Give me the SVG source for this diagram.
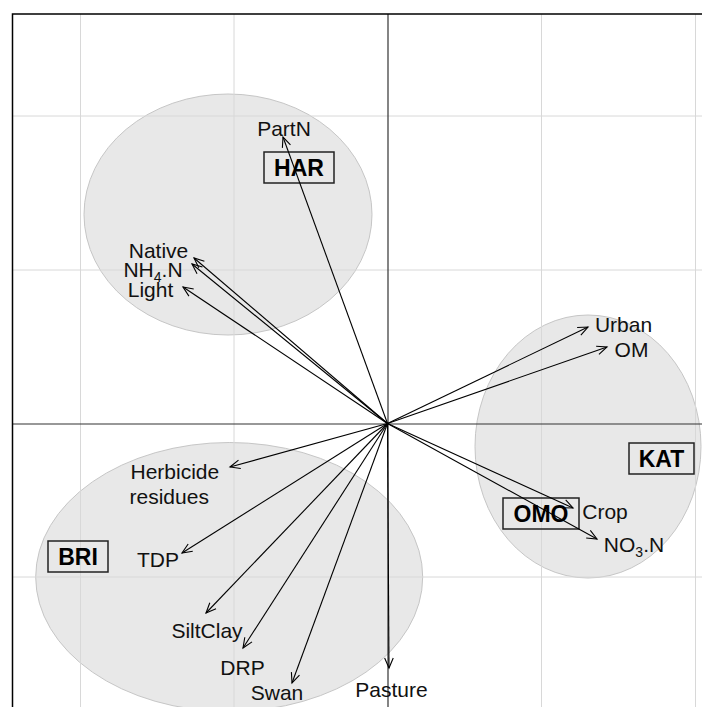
<svg xmlns="http://www.w3.org/2000/svg" width="702" height="707" viewBox="0 0 702 707">
<style>
.ell{fill:#e8e8e8;stroke:#c6c6c6;stroke-width:1}
.grid{stroke:#d8d8d8;stroke-width:1;fill:none}
.axis{stroke:#333;stroke-width:1.2;fill:none}
.frame{stroke:#000;stroke-width:1.5;fill:none}
.lab{font-family:"Liberation Sans",Arial,sans-serif;font-size:21px;fill:#111}
.sub{font-size:14px}
.grp{font-family:"Liberation Sans",Arial,sans-serif;font-size:23px;font-weight:bold;fill:#000;text-anchor:middle}
.box{fill:none;stroke:#222;stroke-width:1.5}
.arr{stroke:#000;stroke-width:1.1;fill:none;marker-end:url(#ah)}
</style>
<defs>
<marker id="ah" markerUnits="userSpaceOnUse" markerWidth="14" markerHeight="12" refX="0" refY="0" viewBox="-12 -6 14 12" orient="auto">
<path d="M-10,-4.3 L0,0 L-10,4.3" fill="none" stroke="#000" stroke-width="1.1"/>
</marker>
</defs>
<rect x="0" y="0" width="702" height="707" fill="#fff"/>
<g id="ellipses">
<ellipse id="ell-HAR" class="ell" cx="228" cy="214.5" rx="144" ry="120.5"/>
<ellipse id="ell-KAT" class="ell" cx="588" cy="446.5" rx="113" ry="131.5"/>
<ellipse id="ell-BRI" class="ell" cx="229.2" cy="577" rx="193.5" ry="134.5"/>
</g>
<g id="grid">
<line class="grid" x1="80.5" y1="14" x2="80.5" y2="707"/>
<line class="grid" x1="234" y1="14" x2="234" y2="707"/>
<line class="grid" x1="541.5" y1="14" x2="541.5" y2="707"/>
<line class="grid" x1="695.5" y1="14" x2="695.5" y2="707"/>
<line class="grid" x1="12.5" y1="116" x2="702" y2="116"/>
<line class="grid" x1="12.5" y1="270" x2="702" y2="270"/>
<line class="grid" x1="12.5" y1="577" x2="702" y2="577"/>
</g>
<g id="axes">
<line class="axis" x1="388" y1="14" x2="388" y2="707"/>
<line class="axis" x1="12.5" y1="424" x2="702" y2="424" stroke="#555"/>
<path class="frame" d="M12.5,707 L12.5,14 L702,14"/>
</g>
<g id="HAR"><rect class="box" x="264" y="152" width="70" height="31"/><text class="grp" x="299" y="176">HAR</text></g>
<g id="KAT"><rect class="box" x="629" y="443" width="65" height="31"/><text class="grp" x="661.5" y="467">KAT</text></g>
<g id="OMO"><rect class="box" x="503" y="498" width="76" height="31"/><text class="grp" x="541" y="522">OMO</text></g>
<g id="BRI"><rect class="box" x="48" y="541" width="60" height="31"/><text class="grp" x="78" y="565">BRI</text></g>
<g id="connectors">
<line class="arr" x1="387.5" y1="423.5" x2="283" y2="137"/>
<line class="arr" x1="387.5" y1="423.5" x2="194" y2="258"/>
<line class="arr" x1="387.5" y1="423.5" x2="192" y2="264"/>
<line class="arr" x1="387.5" y1="423.5" x2="183" y2="287"/>
<line class="arr" x1="387.5" y1="423.5" x2="588" y2="327"/>
<line class="arr" x1="387.5" y1="423.5" x2="607" y2="347"/>
<line class="arr" x1="387.5" y1="423.5" x2="573" y2="508"/>
<line class="arr" x1="387.5" y1="423.5" x2="597" y2="539"/>
<line class="arr" x1="387.5" y1="423.5" x2="230" y2="467"/>
<line class="arr" x1="387.5" y1="423.5" x2="182" y2="553"/>
<line class="arr" x1="387.5" y1="423.5" x2="206" y2="613"/>
<line class="arr" x1="387.5" y1="423.5" x2="243" y2="648"/>
<line class="arr" x1="387.5" y1="423.5" x2="292" y2="683"/>
<line class="arr" x1="387.5" y1="423.5" x2="389" y2="668"/>
</g>
<g id="labels">
<text id="PartN" class="lab" x="284" y="136" text-anchor="middle">PartN</text>
<text id="Native" class="lab" x="158.5" y="258" text-anchor="middle">Native</text>
<text id="NH4N" class="lab" x="153" y="277" text-anchor="middle">NH<tspan class="sub" dy="5">4</tspan><tspan dy="-5">.N</tspan></text>
<text id="Light" class="lab" x="150.5" y="297" text-anchor="middle">Light</text>
<text id="Urban" class="lab" x="623.5" y="332" text-anchor="middle">Urban</text>
<text id="OM" class="lab" x="631.5" y="357" text-anchor="middle">OM</text>
<text id="Crop" class="lab" x="605" y="519" text-anchor="middle">Crop</text>
<text id="NO3N" class="lab" x="634" y="552" text-anchor="middle">NO<tspan class="sub" dy="5">3</tspan><tspan dy="-5">.N</tspan></text>
<text id="Herbicide" class="lab" x="130.5" y="479">Herbicide<tspan x="129.5" y="504">residues</tspan></text>
<text id="TDP" class="lab" x="158" y="567" text-anchor="middle">TDP</text>
<text id="SiltClay" class="lab" x="207" y="638" text-anchor="middle">SiltClay</text>
<text id="DRP" class="lab" x="242.5" y="675" text-anchor="middle">DRP</text>
<text id="Swan" class="lab" x="277" y="700" text-anchor="middle">Swan</text>
<text id="Pasture" class="lab" x="391.5" y="697" text-anchor="middle">Pasture</text>
</g>
</svg>
